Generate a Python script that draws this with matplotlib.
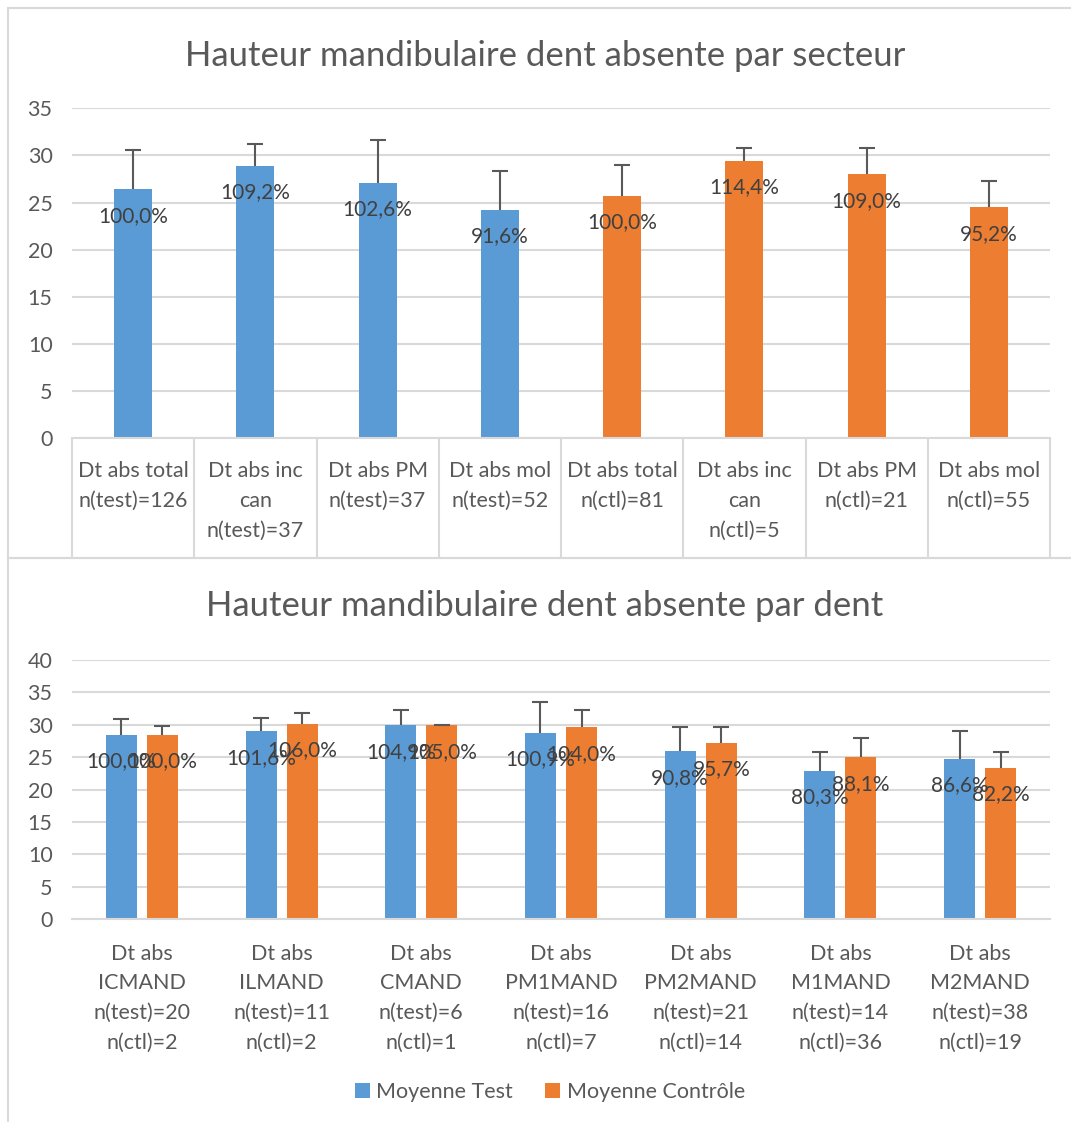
import matplotlib
matplotlib.use("Agg")
import matplotlib.pyplot as plt
from matplotlib.patches import Rectangle

plt.rcParams["font.family"] = ["Lato", "DejaVu Sans"]

BLUE = "#5B9BD5"
ORANGE = "#ED7D31"
GRID = "#D9D9D9"
TXT = "#595959"
LBL = "#404040"

# top chart: by sector
sect_labels = [
    "Dt abs total\nn(test)=126", "Dt abs inc\ncan\nn(test)=37", "Dt abs PM\nn(test)=37",
    "Dt abs mol\nn(test)=52", "Dt abs total\nn(ctl)=81", "Dt abs inc\ncan\nn(ctl)=5",
    "Dt abs PM\nn(ctl)=21", "Dt abs mol\nn(ctl)=55",
]
sect_means = [26.4, 28.9, 27.1, 24.2, 25.7, 29.4, 28.0, 24.5]
sect_sd = [4.2, 2.3, 4.5, 4.1, 3.3, 1.4, 2.8, 2.8]
sect_pct = [100.0, 109.2, 102.6, 91.6, 100.0, 114.4, 109.0, 95.2]
sect_group = ["test"] * 4 + ["ctl"] * 4

# bottom chart: by tooth
tooth_labels = [
    "Dt abs\nICMAND\nn(test)=20\nn(ctl)=2", "Dt abs\nILMAND\nn(test)=11\nn(ctl)=2",
    "Dt abs\nCMAND\nn(test)=6\nn(ctl)=1", "Dt abs\nPM1MAND\nn(test)=16\nn(ctl)=7",
    "Dt abs\nPM2MAND\nn(test)=21\nn(ctl)=14", "Dt abs\nM1MAND\nn(test)=14\nn(ctl)=36",
    "Dt abs\nM2MAND\nn(test)=38\nn(ctl)=19",
]
test_means = [28.5, 29.0, 29.9, 28.75, 25.9, 22.9, 24.7]
test_sd = [2.4, 2.0, 2.4, 4.75, 3.8, 2.9, 4.3]
test_pct = [100.0, 101.6, 104.9, 100.9, 90.8, 80.3, 86.6]
ctl_means = [28.4, 30.1, 29.9, 29.6, 27.2, 25.0, 23.35]
ctl_sd = [1.4, 1.7, 0.0, 2.7, 2.5, 2.9, 2.45]
ctl_pct = [100.0, 106.0, 105.0, 104.0, 95.7, 88.1, 82.2]

W, H = 1071, 1122
fig = plt.figure(figsize=(W / 100, H / 100), dpi=100)


def fmt_pct(v):
    return f"{v:.1f}%".replace(".", ",")


def style_axes(ax, ymax):
    ax.set_ylim(0, ymax)
    ax.set_yticks(range(0, ymax + 1, 5))
    ax.grid(axis="y", color=GRID, linewidth=1.5)
    ax.set_axisbelow(True)
    for s in ["top", "right", "left"]:
        ax.spines[s].set_visible(False)
    ax.spines["bottom"].set_color(GRID)
    ax.spines["bottom"].set_linewidth(1.5)
    ax.tick_params(axis="y", length=0, pad=14, labelsize=15.5, labelcolor=TXT)


def plus_errorbar(ax, xs, ys, sd):
    # upper error only, no cap at the bar top
    eb = ax.errorbar(xs, ys, yerr=[[0] * len(sd), sd], fmt="none", ecolor=TXT,
                     elinewidth=1.5, capsize=5.5, capthick=1.5, zorder=3)
    eb[1][0].set_visible(False)


def add_labels(ax, xs, ys, pcts):
    for x, y, p in zip(xs, ys, pcts):
        ax.annotate(fmt_pct(p), (x, y), xytext=(0, -19), textcoords="offset points",
                    ha="center", va="center", fontsize=15, color=LBL)


# ---- top chart ----
ax1 = fig.add_axes([72 / W, 1 - 438.3 / H, 978 / W, 330 / H])
xs = list(range(len(sect_means)))
colors = [BLUE if g == "test" else ORANGE for g in sect_group]
ax1.bar(xs, sect_means, width=0.31, color=colors, zorder=2)
plus_errorbar(ax1, xs, sect_means, sect_sd)
add_labels(ax1, xs, sect_means, sect_pct)
style_axes(ax1, 35)
ax1.set_xlim(-0.5, len(xs) - 0.5)
ax1.set_xticks(xs)
ax1.set_xticklabels(sect_labels, fontsize=15.5, color=TXT, linespacing=1.62)
ax1.tick_params(axis="x", which="major", length=0, pad=16.5)
ax1.set_xticks([i - 0.5 for i in range(len(xs) + 1)], minor=True)
ax1.tick_params(axis="x", which="minor", length=119 * 0.72, width=1.5, color=GRID, direction="out")
fig.text(545 / W, 1 - 56 / H, "Hauteur mandibulaire dent absente par secteur",
         ha="center", va="center", fontsize=25, color=TXT)

# ---- bottom chart ----
ax2 = fig.add_axes([72 / W, 1 - 919.3 / H, 978 / W, 259.3 / H])
xg = list(range(len(test_means)))
off = 0.147
bw = 0.222
xt = [x - off for x in xg]
xc = [x + off for x in xg]
ax2.bar(xt, test_means, width=bw, color=BLUE, zorder=2, label="Moyenne Test")
ax2.bar(xc, ctl_means, width=bw, color=ORANGE, zorder=2, label="Moyenne Contrôle")
plus_errorbar(ax2, xt, test_means, test_sd)
plus_errorbar(ax2, xc, ctl_means, ctl_sd)
add_labels(ax2, xt, test_means, test_pct)
add_labels(ax2, xc, ctl_means, ctl_pct)
style_axes(ax2, 40)
ax2.set_xlim(-0.5, len(xg) - 0.5)
ax2.set_xticks(xg)
ax2.set_xticklabels(tooth_labels, fontsize=15.5, color=TXT, linespacing=1.6)
ax2.tick_params(axis="x", length=0, pad=17.5)
fig.text(545 / W, 1 - 606 / H, "Hauteur mandibulaire dent absente par dent",
         ha="center", va="center", fontsize=25, color=TXT)

h, l = ax2.get_legend_handles_labels()
fig.legend(h, l, loc="center", bbox_to_anchor=(550 / W, 1 - 1092 / H), ncol=2,
           frameon=False, fontsize=15.5, labelcolor=TXT, handlelength=0.7,
           handleheight=0.7, handletextpad=0.3, columnspacing=1.5)

# chart frames
for y0, y1 in [(8, 558), (558, 1130)]:
    fig.add_artist(Rectangle((8 / W, 1 - y1 / H), 1.1, (y1 - y0) / H,
                             transform=fig.transFigure, fill=False,
                             edgecolor=GRID, linewidth=1.5))

fig.savefig("out.png", dpi=100)
